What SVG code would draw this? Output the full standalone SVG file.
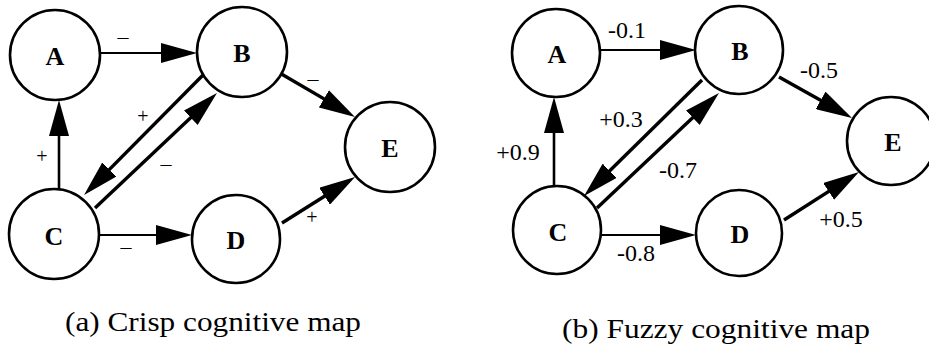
<svg xmlns="http://www.w3.org/2000/svg" width="929" height="353" viewBox="0 0 929 353">
  <style>
    text { font-family: "Liberation Serif", Tinos, "Times New Roman", Times, "Nimbus Roman", "Nimbus Roman No9 L", FreeSerif, "DejaVu Serif", "Noto Serif", serif; fill: #000; }
    .node circle { fill: #fff; stroke: #000; stroke-width: 2.6; }
    .node text { font-weight: bold; font-size: 26px; text-anchor: middle; }
    .edge { stroke: #000; fill: none; marker-end: url(#head); }
    .flat { stroke-width: 2.2; }
    .vert { stroke-width: 2.6; }
    .diag { stroke-width: 3.4; }
    .sign { font-size: 22px; text-anchor: middle; }
    .plus { font-size: 20px; }
    .weight { font-size: 24px; text-anchor: middle; }
    .caption { font-size: 28px; }
  </style>
  <defs>
    <marker id="head" markerUnits="userSpaceOnUse" markerWidth="36" markerHeight="20" viewBox="0 0 36 20" refX="22" refY="10" orient="auto">
      <path d="M0,0 L36,10 L0,20 Z" fill="#000"/>
    </marker>
  </defs>
  <rect width="929" height="353" fill="#fff"/>

  <!-- (a) crisp map -->
  <g id="crisp-edges">
    <line class="edge flat" x1="100" y1="53" x2="183" y2="53"/>
    <line class="edge diag" x1="278" y1="72" x2="342.9" y2="109.9"/>
    <line class="edge vert" x1="59" y1="189" x2="59" y2="114"/>
    <line class="edge diag" x1="203" y1="75" x2="93.9" y2="185.1"/>
    <line class="edge diag" x1="95" y1="208" x2="206.8" y2="102.6"/>
    <line class="edge flat" x1="100" y1="235" x2="178" y2="235"/>
    <line class="edge diag" x1="282" y1="223" x2="343.2" y2="184.5"/>
    <text class="sign" x="123" y="43.5">–</text>
    <text class="sign" x="313" y="85.5">–</text>
    <text class="sign plus" x="143" y="123">+</text>
    <text class="sign plus" x="42" y="163">+</text>
    <text class="sign" x="166" y="170.5">–</text>
    <text class="sign" x="126" y="253.5">–</text>
    <text class="sign plus" x="312" y="224">+</text>
  </g>
  <g id="crisp-A" class="node"><circle cx="55" cy="55" r="45"/><text x="55" y="65">A</text></g>
  <g id="crisp-B" class="node"><circle cx="242" cy="52" r="45"/><text x="242" y="62">B</text></g>
  <g id="crisp-C" class="node"><circle cx="54" cy="234" r="45"/><text x="54" y="245">C</text></g>
  <g id="crisp-D" class="node"><circle cx="236" cy="239" r="44"/><text x="236" y="249">D</text></g>
  <g id="crisp-E" class="node"><circle cx="390" cy="147" r="45"/><text x="390" y="157">E</text></g>
  <text class="caption" x="65" y="331" textLength="296" lengthAdjust="spacingAndGlyphs">(a) Crisp cognitive map</text>

  <!-- (b) fuzzy map -->
  <g id="fuzzy-edges">
    <line class="edge flat" x1="600" y1="50" x2="682" y2="50"/>
    <line class="edge diag" x1="779" y1="77" x2="839.8" y2="111.1"/>
    <line class="edge vert" x1="554" y1="186" x2="554" y2="111"/>
    <line class="edge diag" x1="702" y1="80" x2="594" y2="186.2"/>
    <line class="edge diag" x1="597" y1="208" x2="708.8" y2="102.6"/>
    <line class="edge flat" x1="601" y1="235" x2="682" y2="235"/>
    <line class="edge diag" x1="784" y1="220" x2="847.2" y2="179.6"/>
    <text class="weight" x="627" y="38">-0.1</text>
    <text class="weight" x="819" y="78">-0.5</text>
    <text class="weight" x="621" y="127">+0.3</text>
    <text class="weight" x="518" y="160">+0.9</text>
    <text class="weight" x="678" y="178">-0.7</text>
    <text class="weight" x="636" y="261">-0.8</text>
    <text class="weight" x="841" y="227">+0.5</text>
  </g>
  <g id="fuzzy-A" class="node"><circle cx="556" cy="53" r="44"/><text x="557" y="63">A</text></g>
  <g id="fuzzy-B" class="node"><circle cx="739" cy="50" r="44"/><text x="740" y="60">B</text></g>
  <g id="fuzzy-C" class="node"><circle cx="557" cy="230" r="44"/><text x="558" y="241">C</text></g>
  <g id="fuzzy-D" class="node"><circle cx="739" cy="233" r="43"/><text x="740" y="243">D</text></g>
  <g id="fuzzy-E" class="node"><circle cx="891" cy="141" r="44"/><text x="893" y="151">E</text></g>
  <text class="caption" x="562" y="338" textLength="308" lengthAdjust="spacingAndGlyphs">(b) Fuzzy cognitive map</text>
</svg>
